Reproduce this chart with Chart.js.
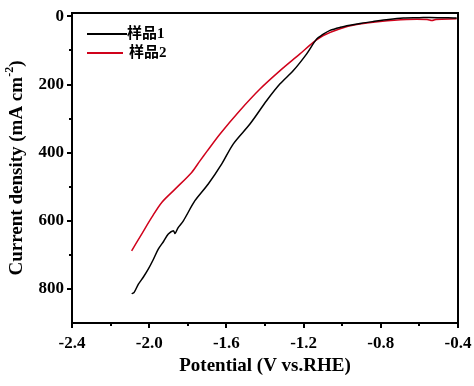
<!DOCTYPE html>
<html>
<head>
<meta charset="utf-8">
<script src="https://cdn.jsdelivr.net/npm/chart.js@4.4.1/dist/chart.umd.min.js"></script>
<style>
  html, body { margin: 0; padding: 0; background: #fff; }
  #wrap { width: 474px; height: 386px; }
</style>
</head>
<body>
<div id="wrap"><canvas id="lsv" width="474" height="386"></canvas></div>
<script>
// LSV-Kurven (Potential in V, Stromdichte in mA cm-2)
const potSample1 = [-2.091, -2.078, -2.056, -2.030, -2.005, -1.980, -1.953, -1.925, -1.901, -1.875,
  -1.866, -1.850, -1.823, -1.763, -1.694, -1.624, -1.564, -1.478, -1.391, -1.322,
  -1.253, -1.184, -1.132, -1.100, -1.063, -1.010, -0.960, -0.900, -0.839, -0.760,
  -0.683, -0.600, -0.545, -0.407];
const curSample1 = [814, 810, 786, 765, 742, 715, 683, 660, 639, 629,
  637, 620, 600, 541, 492, 433, 374, 316, 247, 198,
  159, 110, 66, 53, 41, 32, 26, 20, 15, 9,
  5, 4, 3, 5];

const potSample2 = [-2.091, -2.039, -1.987, -1.935, -1.866, -1.780, -1.737, -1.702, -1.633, -1.530,
  -1.426, -1.322, -1.219, -1.150, -1.098, -1.011, -0.925, -0.804, -0.666, -0.560,
  -0.535, -0.515, -0.407];
const curSample2 = [688, 639, 590, 546, 507, 458, 424, 397, 345, 276,
  213, 159, 110, 76, 56, 36, 24, 15, 9, 9,
  12, 9, 7];

const seriesNames = ["样品1", "样品2"];
const seriesColors = ["#000000", "#d0021b"];

const xMajorTicks = [-2.4, -2.0, -1.6, -1.2, -0.8, -0.4];
const xMinorTicks = [-2.2, -1.8, -1.4, -1.0, -0.6];
const yMajorTicks = [0, 200, 400, 600, 800];
const yMinorTicks = [100, 300, 500, 700];

const SERIF = "'Liberation Serif', 'Times New Roman', 'Noto Sans CJK SC', serif";

function toPoints(xs, ys) {
  return xs.map((x, i) => ({ x: x, y: ys[i] }));
}

// Überstand der Tick-Labels nicht in den Rand einrechnen -> feste Plotfläche
function noOverflow(s) {
  s.paddingTop = 0; s.paddingBottom = 0; s.paddingLeft = 0; s.paddingRight = 0;
}

// Rahmen, Haupt-/Nebenstriche, Legende und y-Titel mit Hochstellung
const decorations = {
  id: "decorations",
  afterDraw(chart) {
    const { ctx, chartArea: a, scales } = chart;
    const sx = scales.x, sy = scales.y;
    ctx.save();
    ctx.strokeStyle = "#000";
    ctx.lineWidth = 2;
    ctx.strokeRect(a.left, a.top, a.right - a.left, a.bottom - a.top);

    ctx.beginPath();
    xMajorTicks.forEach((v) => {
      const px = Math.round(sx.getPixelForValue(v));
      ctx.moveTo(px, a.bottom); ctx.lineTo(px, a.bottom + 5);
    });
    xMinorTicks.forEach((v) => {
      const px = Math.round(sx.getPixelForValue(v));
      ctx.moveTo(px, a.bottom); ctx.lineTo(px, a.bottom + 3);
    });
    yMajorTicks.forEach((v) => {
      const py = Math.round(sy.getPixelForValue(v));
      ctx.moveTo(a.left, py); ctx.lineTo(a.left - 5, py);
    });
    yMinorTicks.forEach((v) => {
      const py = Math.round(sy.getPixelForValue(v));
      ctx.moveTo(a.left, py); ctx.lineTo(a.left - 3, py);
    });
    ctx.stroke();

    // Legende oben links im Plotbereich
    chart.data.datasets.forEach((ds, i) => {
      const y = a.top + 21 + i * 19;
      ctx.strokeStyle = ds.borderColor;
      ctx.lineWidth = 2;
      ctx.beginPath();
      ctx.moveTo(a.left + 15, y);
      ctx.lineTo(a.left + (i === 0 ? 55 : 51), y);
      ctx.stroke();
      ctx.fillStyle = "#000";
      ctx.font = "bold 15px " + SERIF;
      ctx.textBaseline = "middle";
      ctx.textAlign = "left";
      ctx.fillText(ds.label, a.left + (i === 0 ? 55 : 57), y);
    });

    // y-Achsentitel, gedreht, mit "-2" hochgestellt
    const main = "Current density (mA cm";
    const sup = "-2";
    const tail = ")";
    const big = "bold 19px " + SERIF;
    const small = "bold 12px " + SERIF;
    ctx.font = big;
    const w1 = ctx.measureText(main).width;
    const w3 = ctx.measureText(tail).width;
    ctx.font = small;
    const w2 = ctx.measureText(sup).width;
    const total = w1 + w2 + w3;
    ctx.translate(17, (a.top + a.bottom) / 2);
    ctx.rotate(-Math.PI / 2);
    ctx.textBaseline = "middle";
    ctx.textAlign = "left";
    ctx.fillStyle = "#000";
    let x0 = -total / 2;
    ctx.font = big;
    ctx.fillText(main, x0, 0);
    ctx.font = small;
    ctx.fillText(sup, x0 + w1, -7);
    ctx.font = big;
    ctx.fillText(tail, x0 + w1 + w2, 0);
    ctx.restore();
  },
};

new Chart(document.getElementById("lsv"), {
  type: "line",
  data: {
    datasets: [
      {
        label: seriesNames[0],
        data: toPoints(potSample1, curSample1),
        borderColor: seriesColors[0],
        borderWidth: 1.5,
        pointRadius: 0,
        tension: 0.3,
        fill: false,
      },
      {
        label: seriesNames[1],
        data: toPoints(potSample2, curSample2),
        borderColor: seriesColors[1],
        borderWidth: 1.5,
        pointRadius: 0,
        tension: 0.3,
        fill: false,
      },
    ],
  },
  options: {
    responsive: false,
    animation: false,
    devicePixelRatio: 1,
    layout: { padding: { top: 13, right: 16, left: 0, bottom: 0 } },
    plugins: { legend: { display: false }, tooltip: { enabled: false } },
    scales: {
      x: {
        type: "linear",
        min: -2.4,
        max: -0.4,
        afterFit: (s) => { s.height = 63; noOverflow(s); },
        afterBuildTicks: (s) => { s.ticks = xMajorTicks.map((v) => ({ value: v })); },
        grid: { display: true, drawOnChartArea: false, drawTicks: false },
        border: { display: false },
        ticks: {
          color: "#000",
          padding: 10,
          maxRotation: 0,
          font: { family: SERIF, size: 17, weight: "bold" },
          callback: (v) => v.toFixed(1),
        },
        title: {
          display: true,
          text: "Potential (V vs.RHE)",
          color: "#000",
          padding: { top: 0, bottom: 9 },
          font: { family: SERIF, size: 19, weight: "bold" },
        },
      },
      y: {
        type: "linear",
        reverse: true,
        min: -10,
        max: 900,
        afterFit: (s) => { s.width = 72; noOverflow(s); },
        afterBuildTicks: (s) => { s.ticks = yMajorTicks.map((v) => ({ value: v })); },
        grid: { display: true, drawOnChartArea: false, drawTicks: false },
        border: { display: false },
        ticks: {
          color: "#000",
          padding: 8,
          font: { family: SERIF, size: 17, weight: "bold" },
        },
      },
    },
  },
  plugins: [decorations],
});
</script>
</body>
</html>
